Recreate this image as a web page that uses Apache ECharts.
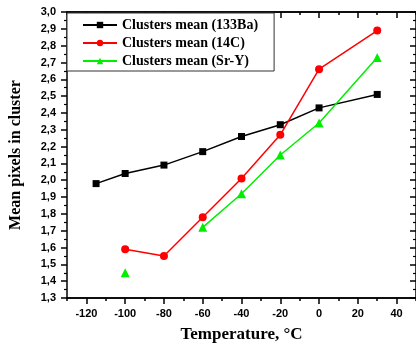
<!DOCTYPE html>
<html>
<head>
<meta charset="utf-8">
<script src="https://cdn.jsdelivr.net/npm/echarts@6/dist/echarts.min.js"></script>
<style>
html, body { margin: 0; padding: 0; background: #fff; }
#chart { width: 416px; height: 350px; }
</style>
</head>
<body>
<div id="chart"></div>
<script>
// temperatures (°C) and mean cluster sizes
var tempBa = [-115, -100, -80, -60, -40, -20, 0, 30];
var meanBa = [1.98, 2.04, 2.09, 2.17, 2.26, 2.33, 2.43, 2.51];
var tempC = [-100, -80, -60, -40, -20, 0, 30];
var meanC = [1.59, 1.55, 1.78, 2.01, 2.27, 2.66, 2.89];
var tempSrY = [-100, -80, -60, -40, -20, 0, 30];
var meanSrY = [1.45, null, 1.72, 1.92, 2.15, 2.34, 2.73];

var xMajor = [-120, -100, -80, -60, -40, -20, 0, 20, 40];
var xMinor = [-130, -110, -90, -70, -50, -30, -10, 10, 30, 50];

function pairs(xs, ys) {
	return xs.map(function (x, i) {
		return [x, ys[i] == null ? '-' : ys[i]];
	});
}

(function(){
	var myChart = echarts.init(document.getElementById('chart'));
	var serif = 'Liberation Serif';
	var sans = 'Liberation Sans';

	function xAxisOf(pos, ticks, len, inside, withLabels) {
		return {
			type: 'value',
			position: pos,
			min: -130,
			max: 50,
			axisLine: { show: true, onZero: false, lineStyle: { color: '#000', width: 1.5 } },
			axisTick: { show: true, inside: inside, length: len, customValues: ticks,
				lineStyle: { color: '#000', width: 1.5 } },
			axisLabel: withLabels ? {
				show: true, customValues: xMajor, margin: 10,
				fontFamily: sans, fontWeight: 'bold', fontSize: 11, color: '#000'
			} : { show: false },
			splitLine: { show: false }
		};
	}

	function yAxisOf(pos, inside, withLabels) {
		return {
			type: 'value',
			position: pos,
			min: 1.3,
			max: 3.0,
			interval: 0.1,
			axisLine: { show: true, onZero: false, lineStyle: { color: '#000', width: 1.5 } },
			axisTick: { show: true, inside: inside, length: 6, lineStyle: { color: '#000', width: 1.5 } },
			minorTick: { show: true, splitNumber: 2, length: 3, lineStyle: { color: '#000', width: 1.2 } },
			axisLabel: withLabels ? {
				show: true, margin: 11,
				fontFamily: sans, fontWeight: 'bold', fontSize: 11, color: '#000',
				formatter: function (v) { return v.toFixed(1).replace('.', ','); }
			} : { show: false },
			splitLine: { show: false }
		};
	}

	var xBottom = xAxisOf('bottom', xMajor, 6, false, true);
	xBottom.name = 'Temperature, °C';
	xBottom.nameLocation = 'middle';
	xBottom.nameGap = 28;
	xBottom.nameTextStyle = { fontFamily: serif, fontWeight: 'bold', fontSize: 17, color: '#000' };

	var yLeft = yAxisOf('left', false, true);
	yLeft.name = 'Mean pixels in cluster';
	yLeft.nameLocation = 'middle';
	yLeft.nameGap = 43;
	yLeft.nameTextStyle = { fontFamily: serif, fontWeight: 'bold', fontSize: 16, color: '#000' };

	var option = {
		animation: false,
		backgroundColor: '#fff',
		grid: { left: 65, right: 0, top: 12, bottom: 52 },
		legend: {
			orient: 'vertical',
			left: 67,
			top: 13,
			padding: [5, 16, 3, 15],
			itemGap: 4,
			itemWidth: 34,
			itemHeight: 8,
			borderColor: '#333',
			borderWidth: 1,
			backgroundColor: '#fff',
			textStyle: { fontFamily: serif, fontWeight: 'bold', fontSize: 14, lineHeight: 14, color: '#000' },
			data: ['Clusters mean (133Ba)', 'Clusters mean (14C)', 'Clusters mean (Sr-Y)']
		},
		xAxis: [
			xBottom,
			xAxisOf('bottom', xMinor, 3, false, false),
			xAxisOf('top', xMajor, 6, true, false),
			xAxisOf('top', xMinor, 3, true, false)
		],
		yAxis: [
			yLeft,
			yAxisOf('right', true, false)
		],
		series: [
			{
				name: 'Clusters mean (133Ba)',
				type: 'line',
				symbol: 'rect',
				symbolSize: 7,
				itemStyle: { color: '#000' },
				lineStyle: { color: '#000', width: 1.5 },
				data: pairs(tempBa, meanBa)
			},
			{
				name: 'Clusters mean (14C)',
				type: 'line',
				symbol: 'circle',
				symbolSize: 8,
				itemStyle: { color: '#ff0000' },
				lineStyle: { color: '#ff0000', width: 1.5 },
				data: pairs(tempC, meanC)
			},
			{
				name: 'Clusters mean (Sr-Y)',
				type: 'line',
				symbol: 'triangle',
				symbolSize: 9,
				connectNulls: false,
				itemStyle: { color: '#00ee00' },
				lineStyle: { color: '#00ee00', width: 1.5 },
				data: pairs(tempSrY, meanSrY)
			}
		]
	};
	myChart.setOption(option);
	window.addEventListener("resize", function() {
		myChart.resize();
	});
})();
</script>
</body>
</html>
